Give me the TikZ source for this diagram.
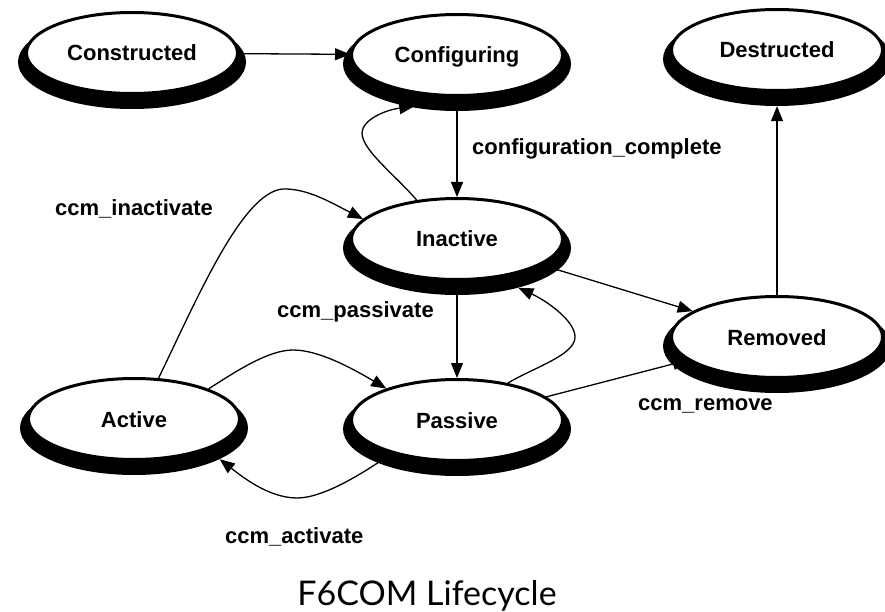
\documentclass[tikz,border=0pt]{standalone}
\usepackage{fontspec}
\setmainfont{Liberation Sans}
\newfontfamily\titlefont{Lato}
\usetikzlibrary{shapes.geometric,arrows.meta}

% a state: a black shadow ellipse (name+s) under a white outlined ellipse (name)
\newcommand\statepair[4]{%
  \node[stateshadow] (#1s) at (#2,#3+9) {};
  \node[state] (#1) at (#2,#3) {#4};}

\begin{document}
\begin{tikzpicture}[x=1pt,y=-1pt,
  stateshadow/.style={ellipse, fill=black, minimum width=228pt,
    minimum height=94pt, inner sep=0pt},
  state/.style={ellipse, draw=black, fill=white, line width=3pt,
    minimum width=211pt, minimum height=81pt, inner sep=0pt,
    text height=16pt, text depth=0pt,
    font=\fontsize{22}{26}\selectfont\bfseries},
  trans/.style={line width=1.3pt, -{Triangle[length=15pt,width=12pt]}},
  lbl/.style={anchor=base west, inner sep=0pt,
    font=\fontsize{22}{26}\selectfont\bfseries}]

\fill[white] (0,0) rectangle (885,612);
\useasboundingbox (0,0) rectangle (885,612);

% states
\statepair{con}{132}{53}{Constructed}
\statepair{cfg}{457}{55}{Configuring}
\statepair{des}{777}{50}{Destructed}
\statepair{ina}{457}{239}{Inactive}
\statepair{rem}{777}{337}{Removed}
\statepair{act}{134}{419}{Active}
\statepair{pas}{457}{420}{Passive}

% straight transitions
\draw[trans] (con) -- (cfg);
\draw[trans] (cfg) -- (ina);
\draw[trans] (ina) -- (pas);
\draw[trans] (ina) -- (rem);
\draw[trans] (pas) -- (rem);
\draw[trans] (rem) -- (dess);

% curved transitions
\draw[trans, shorten >=-5pt] (ina.136) .. controls (395,175) and (362,150) .. (362,133)
  .. controls (362,120) and (385,110) .. (cfgs.222);
\draw[trans] (act.59) .. controls (198,297) and (245,185) .. (287,189)
  .. controls (310,190) and (332,203) .. (ina.168);
\draw[trans] (act.22) .. controls (235,372) and (268,350) .. (293,350)
  .. controls (318,350) and (350,367) .. (pas.156);
\draw[trans] (pas.207) .. controls (368,470) and (325,498) .. (297,498)
  .. controls (268,498) and (240,475) .. (acts.-20);
\draw[trans] (pas.36) .. controls (535,367) and (575,355) .. (575,337)
  .. controls (575,320) and (545,300) .. (inas.-33);

% transition labels
\node[lbl] (lcfg) at (472,155) {configuration\_complete};
\node[lbl] (linact) at (55,215) {ccm\_inactivate};
\node[lbl] (lpass) at (277,317) {ccm\_passivate};
\node[lbl] (lrem) at (638,410) {ccm\_remove};
\node[lbl] (lact) at (225,543) {ccm\_activate};

% caption
\node[font=\titlefont\fontsize{34}{40}\selectfont, inner sep=0pt,
  anchor=base] (title) at (427,605) {F6COM Lifecycle};
\end{tikzpicture}
\end{document}
